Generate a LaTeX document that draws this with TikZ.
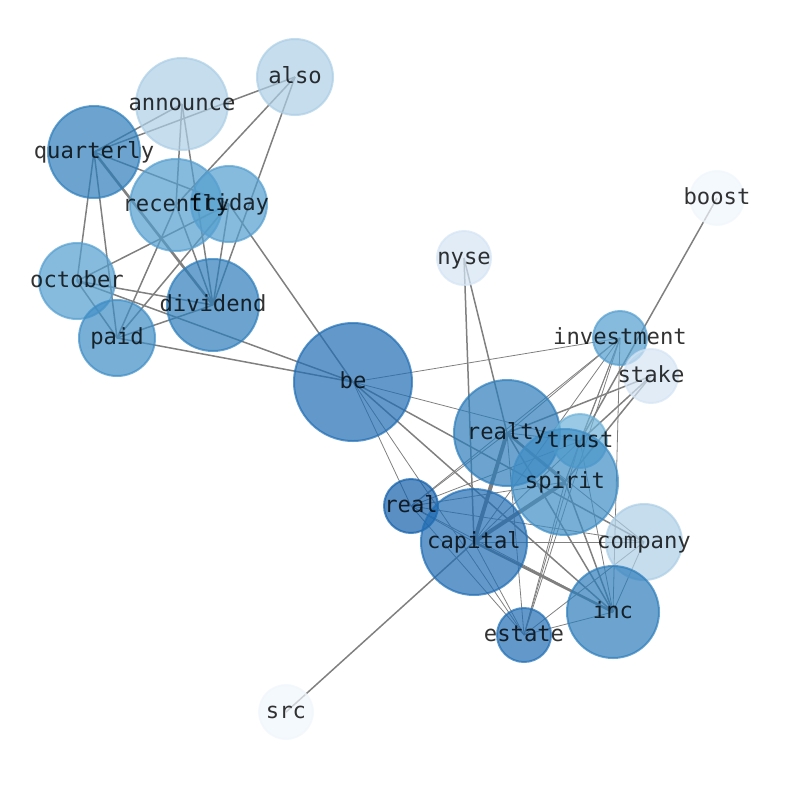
\documentclass[tikz,border=0pt]{standalone}
\usepackage{fontspec}
\setmonofont{DejaVu Sans Mono}
\pgfdeclarelayer{bg}
\pgfsetlayers{bg,main}
\definecolor{cA}{RGB}{33,110,180}
\definecolor{cA2}{RGB}{45,125,187}
\definecolor{cR}{RGB}{18,95,170}
\definecolor{cB}{RGB}{62,141,197}
\definecolor{cB2}{RGB}{84,158,207}
\definecolor{cT}{RGB}{110,178,216}
\definecolor{cC}{RGB}{172,206,229}
\definecolor{cD}{RGB}{212,228,244}
\definecolor{cE}{RGB}{240,246,252}
\definecolor{edgec}{RGB}{128,128,128}
\begin{document}
\begin{tikzpicture}[x=1pt,y=-1pt,
  nd/.style={circle,inner sep=0pt,minimum size=#1,line width=2pt,fill opacity=0.7,draw opacity=0.7},
  lab/.style={inner sep=0pt,text height=16.9pt,text depth=4.2pt,text opacity=0.8,
    font=\fontsize{22.2}{26}\selectfont\ttfamily},
  ed/.style={draw=edgec,line width=1.5pt},
  edt/.style={draw=edgec,line width=0.8pt},
  edk/.style={draw=edgec,line width=2.6pt},
  edkk/.style={draw=edgec,line width=4pt}]
\useasboundingbox (0,0) rectangle (794,790);
% nodes
\node[nd=76pt,fill=cC,draw=cC] (also) at (295,77) {};
\node[nd=92pt,fill=cC,draw=cC] (announce) at (182,104) {};
\node[nd=92pt,fill=cA2,draw=cA2] (quarterly) at (94,152) {};
\node[nd=92pt,fill=cB2,draw=cB2] (recently) at (176,205) {};
\node[nd=76pt,fill=cB2,draw=cB2] (friday) at (229,204) {};
\node[nd=76pt,fill=cB2,draw=cB2] (october) at (77,281) {};
\node[nd=92pt,fill=cA2,draw=cA2] (dividend) at (213,305) {};
\node[nd=76pt,fill=cB,draw=cB] (paid) at (117,338) {};
\node[nd=118pt,fill=cA,draw=cA] (be) at (353,382) {};
\node[nd=54pt,fill=cD,draw=cD] (nyse) at (464,258) {};
\node[nd=54pt,fill=cE,draw=cE] (boost) at (717,198) {};
\node[nd=54pt,fill=cB2,draw=cB2] (investment) at (620,338) {};
\node[nd=54pt,fill=cD,draw=cD] (stake) at (651,376) {};
\node[nd=106pt,fill=cA2,draw=cA2] (realty) at (507,433) {};
\node[nd=54pt,fill=cT,draw=cT] (trust) at (580,441) {};
\node[nd=106pt,fill=cB,draw=cB] (spirit) at (565,482) {};
\node[nd=54pt,fill=cR,draw=cR] (real) at (411,506) {};
\node[nd=106pt,fill=cA,draw=cA] (capital) at (474,542) {};
\node[nd=76pt,fill=cC,draw=cC] (company) at (644,542) {};
\node[nd=92pt,fill=cA2,draw=cA2] (inc) at (613,612) {};
\node[nd=54pt,fill=cA,draw=cA] (estate) at (524,635) {};
\node[nd=54pt,fill=cE,draw=cE] (src) at (286,712) {};
% labels
\foreach \n in {also,announce,quarterly,recently,friday,october,dividend,paid,be,nyse,boost,investment,stake,realty,trust,spirit,real,capital,company,inc,estate,src}
  \node[lab] (\n-l) at (\n.center) {\n};
% edges
\begin{pgfonlayer}{bg}
\foreach \a/\b in {quarterly/announce,quarterly/also,quarterly/friday,quarterly/october,quarterly/paid,
  announce/recently,announce/dividend,also/recently,also/dividend,recently/dividend,recently/paid,
  friday/dividend,friday/paid,friday/october,friday/be,october/dividend,october/be,october/paid,
  paid/dividend,paid/be,be/company,be/inc,nyse/realty,nyse/capital,boost/trust,src/capital,
  realty/inc,realty/stake,spirit/inc,spirit/stake,trust/stake}
  \draw[ed] (\a.center) -- (\b.center);
\foreach \a/\b in {be/investment,be/trust,be/real,be/estate,realty/real,realty/estate,realty/investment,
  realty/company,realty/trust,capital/real,capital/estate,capital/trust,capital/investment,capital/company,
  spirit/estate,spirit/investment,spirit/trust,spirit/real,real/estate,real/inc,real/company,real/trust,
  real/investment,trust/investment,trust/estate,trust/inc,investment/estate,investment/inc,
  inc/company,inc/estate,estate/company}
  \draw[edt] (\a.center) -- (\b.center);
\draw[edk] (quarterly.center) -- (dividend.center);
\draw[edk] (realty.center) -- (spirit.center);
\draw[edk] (capital.center) -- (inc.center);
\draw[edkk] (realty.center) -- (capital.center);
\draw[edkk] (capital.center) -- (spirit.center);
\end{pgfonlayer}
\end{tikzpicture}
\end{document}
